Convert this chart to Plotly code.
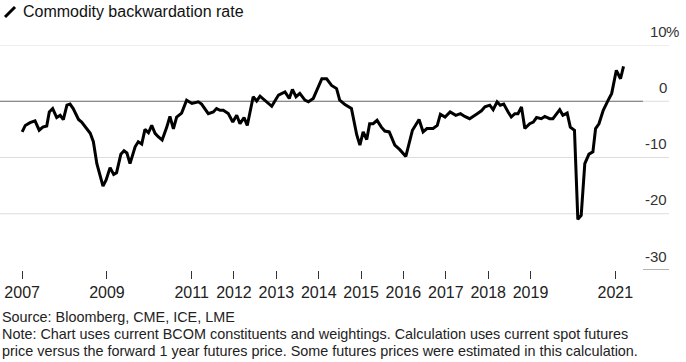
import plotly.graph_objects as go

# ---------------- data ----------------
dates = [
    "2007-01-01", "2007-01-28", "2007-03-10", "2007-04-22", "2007-05-28", "2007-06-28",
    "2007-08-01", "2007-08-23", "2007-09-21", "2007-10-26", "2007-11-25", "2007-12-22",
    "2008-01-22", "2008-02-18", "2008-03-16", "2008-05-01", "2008-05-28", "2008-07-10",
    "2008-08-10", "2008-09-06", "2008-10-06", "2008-11-28", "2008-12-25", "2009-01-28",
    "2009-02-28", "2009-03-25", "2009-05-01", "2009-05-28", "2009-06-22", "2009-07-19",
    "2009-09-01", "2009-09-28", "2009-10-28", "2009-11-25", "2009-12-25", "2010-01-22",
    "2010-02-20", "2010-03-19", "2010-04-22", "2010-06-01", "2010-06-28", "2010-07-28",
    "2010-08-25", "2010-10-07", "2010-11-19", "2011-01-04", "2011-02-28", "2011-03-28",
    "2011-05-25", "2011-07-07", "2011-08-04", "2011-09-04", "2011-10-01", "2011-11-13",
    "2011-12-22", "2012-01-25", "2012-02-22", "2012-03-28", "2012-04-25", "2012-06-15",
    "2012-07-15", "2012-08-13", "2012-10-04", "2012-11-22", "2013-01-19", "2013-03-16",
    "2013-04-22", "2013-05-19", "2013-06-19", "2013-07-22", "2013-09-04", "2013-10-04",
    "2013-11-15", "2013-12-28", "2014-01-28", "2014-03-10", "2014-04-22", "2014-06-04",
    "2014-07-01", "2014-08-15", "2014-10-10", "2014-11-25", "2014-12-22", "2015-01-19",
    "2015-02-19", "2015-03-16", "2015-04-15", "2015-05-19", "2015-06-25", "2015-07-25",
    "2015-09-01", "2015-10-19", "2015-12-01", "2016-01-22", "2016-03-19", "2016-05-15",
    "2016-06-19", "2016-07-22", "2016-09-13", "2016-10-19", "2016-11-15", "2016-12-25",
    "2017-02-07", "2017-03-28", "2017-05-07", "2017-06-13", "2017-07-25", "2017-09-22",
    "2017-11-04", "2017-12-04", "2018-01-15", "2018-02-13", "2018-03-19", "2018-04-15",
    "2018-05-15", "2018-06-22", "2018-07-19", "2018-08-19", "2018-09-15", "2018-10-15",
    "2018-11-13", "2018-12-25", "2019-01-25", "2019-02-22", "2019-04-04", "2019-05-04",
    "2019-06-15", "2019-07-13", "2019-09-10", "2019-10-07", "2019-11-13", "2019-12-10",
    "2020-01-15", "2020-02-13", "2020-03-13", "2020-04-13", "2020-05-19", "2020-06-22",
    "2020-07-15", "2020-08-13", "2020-09-19", "2020-11-01", "2020-12-01", "2021-01-10",
    "2021-02-15", "2021-03-13",
]
backwardation = [
    -5.45, -4.3, -3.8, -3.5, -5.15, -4.6,
    -4.4, -1.9, -1.3, -2.9, -2.5, -3.25,
    -0.7, -0.5, -1.3, -3.25, -3.7, -4.9,
    -5.7, -7.2, -11.1, -15.1, -14.0, -11.8,
    -13.0, -12.7, -9.4, -8.8, -9.2, -11.1,
    -8.1, -7.2, -7.6, -5.0, -5.6, -4.3,
    -5.7, -6.3, -6.9, -4.6, -2.7, -4.9,
    -2.8, -2.1, 0.2, -0.4, -0.1, -0.5,
    -2.2, -1.9, -1.3, -1.6, -1.6, -2.2,
    -3.7, -2.5, -4.0, -2.9, -4.3, 0.8,
    0.05, 0.9, -0.1, -0.9, 1.1, 1.65,
    0.5, 2.1, 0.8, 1.4, 0.2, -0.1,
    0.5, 2.5, 4.0, 4.0, 2.8, 2.25,
    0.2, -0.6, -1.3, -6.0, -7.8, -5.45,
    -6.8, -4.0, -4.0, -3.4, -4.6, -5.3,
    -5.45, -7.8, -8.6, -9.8, -5.15, -3.25,
    -5.45, -4.85, -4.85, -4.3, -2.3, -2.8,
    -1.9, -2.5, -2.2, -2.7, -3.1, -2.3,
    -1.7, -1.0, -0.7, -1.5, -0.1, -0.7,
    -0.5, -1.9, -2.8, -2.2, -2.2, -1.0,
    -4.85, -4.0, -3.7, -2.9, -3.1, -2.7,
    -3.1, -3.1, -1.5, -2.5, -2.1, -4.6,
    -5.15, -21.0, -20.3, -11.1, -9.4, -9.0,
    -4.85, -4.0, -1.6, 0.2, 1.4, 5.5,
    4.0, 6.2,
]

year_tick_dates = ["2007-01-01", "2009-01-01", "2011-01-01", "2012-01-01", "2013-01-01",
                   "2014-01-01", "2015-01-01", "2016-01-01", "2017-01-01", "2018-01-01",
                   "2019-01-01", "2021-01-01"]
year_tick_labels = ["2007", "2009", "2011", "2012", "2013", "2014", "2015", "2016",
                    "2017", "2018", "2019", "2021"]
y_tick_vals = [10, 0, -10, -20, -30]
y_tick_labels = ["10", "0", "-10", "-20", "-30"]
y_unit = "%"

title_text = "Commodity backwardation rate"
source_text = "Source: Bloomberg, CME, ICE, LME"
note_lines = [
    "Note: Chart uses current BCOM constituents and weightings. Calculation uses current spot futures",
    "price versus the forward 1 year futures price. Some futures prices were estimated in this calculation.",
]

# ---------------- layout helpers ----------------
W, H = 686, 362
ML, MR, MT, MB = 0, 17, 45, 92
PW = W - ML - MR
PH = H - MT - MB
FONT = "Liberation Sans, Arial, sans-serif"


def px_x(px):
    return (px - ML) / PW


def px_y(py):
    return (H - MB - py) / PH


split = px_x(643)

fig = go.Figure()
fig.add_trace(go.Scatter(
    x=dates, y=backwardation, mode="lines",
    line=dict(color="#000000", width=3),
    hoverinfo="skip", showlegend=False,
))

shapes = []
for v in y_tick_vals:
    if v == min(y_tick_vals):
        shapes.append(dict(type="line", xref="paper", yref="y", x0=split, x1=1, y0=v, y1=v,
                           line=dict(color="#666666", width=1), layer="below"))
    elif v == 0:
        shapes.append(dict(type="line", xref="paper", yref="y", x0=0, x1=split, y0=v, y1=v,
                           line=dict(color="#666666", width=1), layer="below"))
        shapes.append(dict(type="line", xref="paper", yref="y", x0=split, x1=1, y0=v, y1=v,
                           line=dict(color="#dddddd", width=1), layer="below"))
    else:
        shapes.append(dict(type="line", xref="paper", yref="y", x0=0, x1=1, y0=v, y1=v,
                           line=dict(color="#dddddd", width=1), layer="below"))

# title icon (slash)
shapes.append(dict(type="line", xref="paper", yref="paper",
                   x0=px_x(5), y0=px_y(17), x1=px_x(15), y1=px_y(7),
                   line=dict(color="#000000", width=3)))

annotations = []
for v, t in zip(y_tick_vals, y_tick_labels):
    annotations.append(dict(xref="paper", yref="y", x=1, y=v, text=t, showarrow=False,
                            xanchor="right", yanchor="middle", yshift=14,
                            font=dict(family=FONT, size=15, color="#333333")))
annotations.append(dict(xref="paper", yref="y", x=1, y=max(y_tick_vals), text=y_unit,
                        showarrow=False, xanchor="left", yanchor="middle", yshift=14, xshift=-5,
                        font=dict(family=FONT, size=15, color="#333333")))

annotations.append(dict(xref="paper", yref="paper", x=px_x(21), y=px_y(12), text=title_text,
                        showarrow=False, xanchor="left", yanchor="middle",
                        font=dict(family=FONT, size=16, color="#111111")))
annotations.append(dict(xref="paper", yref="paper", x=px_x(0), y=px_y(317), text=source_text,
                        showarrow=False, xanchor="left", yanchor="middle",
                        font=dict(family=FONT, size=14.4, color="#222222")))
for i, line in enumerate(note_lines):
    annotations.append(dict(xref="paper", yref="paper", x=px_x(0), y=px_y(334 + 17 * i),
                            text=line, showarrow=False, xanchor="left", yanchor="middle",
                            font=dict(family=FONT, size=14.4, color="#222222")))

fig.update_layout(
    width=W, height=H, autosize=False,
    margin=dict(l=ML, r=MR, t=MT, b=MB, pad=0),
    paper_bgcolor="#ffffff", plot_bgcolor="#ffffff",
    showlegend=False,
    shapes=shapes,
    annotations=annotations,
    xaxis=dict(
        type="date", range=["2006-06-24", "2022-04-09"],
        tickvals=year_tick_dates, ticktext=year_tick_labels,
        ticks="outside", ticklen=8, tickwidth=1, tickcolor="#333333",
        showgrid=False, zeroline=False, showline=False,
        tickfont=dict(family=FONT, size=16, color="#222222"),
        fixedrange=True,
    ),
    yaxis=dict(
        range=[-30, 10], showgrid=False, zeroline=False, showline=False,
        showticklabels=False, ticks="", fixedrange=True,
    ),
)

fig.write_html(
    "out.html",
    config={"displayModeBar": False},
    post_script="document.body.style.margin='0';document.body.style.overflow='hidden';",
)
